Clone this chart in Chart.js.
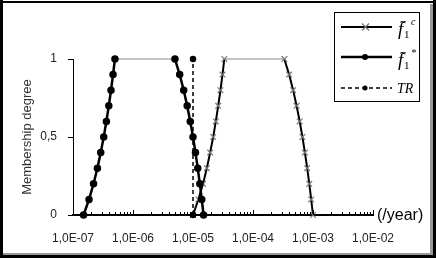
<!DOCTYPE html>
<html>
<head>
<meta charset="utf-8">
<script src="https://cdn.jsdelivr.net/npm/chart.js@4.4.0/dist/chart.umd.min.js"></script>
<style>
  body { margin: 0; background: #fff; }
  canvas { display: block; }
</style>
</head>
<body>
<canvas id="chart" width="436" height="258"></canvas>
<script>
// Values
const f1StarX = [1.5e-7, 1.85e-7, 2.2e-7, 2.55e-7, 2.9e-7, 3.25e-7, 3.6e-7, 3.95e-7, 4.3e-7, 4.65e-7, 5e-7,
                 5e-6, 6e-6, 7e-6, 8e-6, 9e-6, 1e-5, 1.1e-5, 1.2e-5, 1.3e-5, 1.4e-5, 1.5e-5];
const f1StarY = [0, 0.1, 0.2, 0.3, 0.4, 0.5, 0.6, 0.7, 0.8, 0.9, 1,
                 1, 0.9, 0.8, 0.7, 0.6, 0.5, 0.4, 0.3, 0.2, 0.1, 0];
const f1cX = [1e-5, 1.23e-5, 1.47e-5, 1.7e-5, 1.93e-5, 2.17e-5, 2.4e-5, 2.63e-5, 2.87e-5, 3.1e-5, 3.33e-5,
              3.33e-4, 4e-4, 4.67e-4, 5.33e-4, 6e-4, 6.67e-4, 7.33e-4, 8e-4, 8.67e-4, 9.33e-4, 1e-3];
const f1cY = [0, 0.1, 0.2, 0.3, 0.4, 0.5, 0.6, 0.7, 0.8, 0.9, 1,
              1, 0.9, 0.8, 0.7, 0.6, 0.5, 0.4, 0.3, 0.2, 0.1, 0];
const trX = [1e-5, 1e-5];
const trY = [0, 1];

const xTickValues = [1e-7, 1e-6, 1e-5, 1e-4, 1e-3, 1e-2];
const xTickLabels = ['1,0E-07', '1,0E-06', '1,0E-05', '1,0E-04', '1,0E-03', '1,0E-02'];
const yTickValues = [0, 0.5, 1];
const yTickLabels = ['0', '0,5', '1'];

const toPoints = (xs, ys) => xs.map((x, i) => ({ x: x, y: ys[i] }));

// thin grey segment for the flat top of each fuzzy number
const plateau = (c, normal, flat) => (c.p0.parsed.y === 1 && c.p1.parsed.y === 1) ? flat : normal;

// Draws the x tick marks pointing up, the legend box and the outer frame
const decorPlugin = {
  id: 'decor',
  afterDraw(chart) {
    const ctx = chart.ctx;
    const xs = chart.scales.x;
    const yBase = chart.scales.y.getPixelForValue(0);
    ctx.save();

    // x ticks
    ctx.strokeStyle = '#000';
    ctx.lineWidth = 1;
    xs.ticks.forEach(t => {
      const px = Math.round(xs.getPixelForValue(t.value)) + 0.5;
      const len = t.major ? 5 : 3;
      ctx.beginPath();
      ctx.moveTo(px, yBase);
      ctx.lineTo(px, yBase - len);
      ctx.stroke();
    });

    // legend
    ctx.fillStyle = '#fff';
    ctx.fillRect(334, 12, 85, 89);
    ctx.strokeStyle = '#000';
    ctx.lineWidth = 1;
    ctx.strokeRect(334.5, 12.5, 85, 89);

    const rows = [27, 57, 88];
    // row 1: f1c
    ctx.lineWidth = 2;
    ctx.beginPath(); ctx.moveTo(341, rows[0]); ctx.lineTo(392, rows[0]); ctx.stroke();
    ctx.strokeStyle = '#777'; ctx.lineWidth = 1.2;
    ctx.beginPath();
    ctx.moveTo(362, rows[0] - 3.5); ctx.lineTo(369, rows[0] + 3.5);
    ctx.moveTo(369, rows[0] - 3.5); ctx.lineTo(362, rows[0] + 3.5);
    ctx.stroke();
    // row 2: f1*
    ctx.strokeStyle = '#000'; ctx.lineWidth = 2.5;
    ctx.beginPath(); ctx.moveTo(341, rows[1]); ctx.lineTo(392, rows[1]); ctx.stroke();
    ctx.fillStyle = '#000';
    ctx.beginPath(); ctx.arc(365, rows[1], 3, 0, Math.PI * 2); ctx.fill();
    // row 3: TR
    ctx.lineWidth = 1.5; ctx.setLineDash([4, 3]);
    ctx.beginPath(); ctx.moveTo(341, rows[2]); ctx.lineTo(392, rows[2]); ctx.stroke();
    ctx.setLineDash([]);
    ctx.beginPath(); ctx.arc(365, rows[2], 2.5, 0, Math.PI * 2); ctx.fill();

    // legend texts
    ctx.fillStyle = '#000';
    ctx.textBaseline = 'alphabetic';
    ctx.textAlign = 'left';
    const drawF = (y, sup) => {
      ctx.font = 'italic 19px "Liberation Serif"';
      ctx.fillText('f', 398, y);
      ctx.font = '17px "Liberation Serif"';
      ctx.fillText('\u02DC', 400, y - 3);
      ctx.font = '11px "Liberation Serif"';
      ctx.fillText('1', 404, y + 3);
      ctx.font = 'italic 10px "Liberation Serif"';
      ctx.fillText(sup, 411, y - 10);
    };
    drawF(35, 'c');
    drawF(66, '*');
    ctx.font = 'italic 14px "Liberation Serif"';
    ctx.fillText('TR', 397, 93);

    // x axis unit
    ctx.font = '16px "Liberation Sans"';
    ctx.textBaseline = 'middle';
    ctx.fillText('(/year)', 377, 216);

    // outer frame
    ctx.fillStyle = '#999';
    ctx.fillRect(430, 4, 3, 252);
    ctx.fillRect(3, 253, 430, 2);
    ctx.fillStyle = '#000';
    ctx.fillRect(0, 1, 436, 2);
    ctx.fillRect(0, 0, 3, 258);
    ctx.fillRect(433, 0, 3, 258);
    ctx.fillRect(0, 255, 436, 3);
    ctx.restore();
  }
};

new Chart(document.getElementById('chart'), {
  type: 'scatter',
  data: {
    datasets: [
      {
        label: 'TR',
        data: toPoints(trX, trY),
        showLine: true,
        borderColor: '#000',
        borderWidth: 1.5,
        borderDash: [4, 3],
        pointStyle: 'circle',
        pointRadius: 2.5,
        backgroundColor: '#000',
        pointBorderColor: '#000',
        clip: false
      },
      {
        label: 'f1*',
        data: toPoints(f1StarX, f1StarY),
        showLine: true,
        borderColor: '#000',
        borderWidth: 2.5,
        pointStyle: 'circle',
        pointRadius: 2.5,
        backgroundColor: '#000',
        pointBorderColor: '#000',
        segment: {
          borderWidth: c => plateau(c, 2.5, 1),
          borderColor: c => plateau(c, '#000', '#888')
        },
        clip: false
      },
      {
        label: 'f1c',
        data: toPoints(f1cX, f1cY),
        showLine: true,
        borderColor: '#000',
        borderWidth: 2,
        pointStyle: 'crossRot',
        pointRadius: 4,
        pointBorderColor: '#777',
        pointBorderWidth: 1.2,
        backgroundColor: '#777',
        segment: {
          borderWidth: c => plateau(c, 2, 1),
          borderColor: c => plateau(c, '#000', '#888')
        },
        clip: false
      }
    ]
  },
  options: {
    responsive: false,
    animation: false,
    layout: { padding: { top: 59, right: 63, left: 0, bottom: 0 } },
    plugins: {
      legend: { display: false },
      tooltip: { enabled: false }
    },
    scales: {
      x: {
        type: 'logarithmic',
        min: 1e-7,
        max: 1e-2,
        grid: { display: false, drawTicks: false },
        border: { display: true, color: '#000', width: 2 },
        afterBuildTicks: scale => {
          const ticks = [];
          xTickValues.forEach((d, i) => {
            ticks.push({ value: d, major: true });
            if (i < xTickValues.length - 1) {
              for (let m = 2; m <= 9; m++) ticks.push({ value: m * d, major: false });
            }
          });
          scale.ticks = ticks;
        },
        ticks: {
          autoSkip: false,
          maxRotation: 0,
          padding: 16,
          color: '#222',
          font: { family: 'Liberation Sans', size: 12 },
          callback: value => {
            const i = xTickValues.findIndex(v => Math.abs(v - value) / v < 1e-6);
            return i >= 0 ? xTickLabels[i] : '';
          }
        },
        afterFit: scale => { scale.height = 43; }
      },
      y: {
        min: 0,
        max: 1,
        grid: { drawOnChartArea: false, drawTicks: true, tickLength: 5, color: '#000' },
        border: { display: true, color: '#000', width: 1 },
        afterBuildTicks: scale => {
          scale.ticks = yTickValues.map(v => ({ value: v }));
        },
        ticks: {
          padding: 11,
          color: '#222',
          font: { family: 'Liberation Sans', size: 12 },
          callback: value => yTickLabels[yTickValues.indexOf(value)]
        },
        title: {
          display: true,
          text: 'Membership degree',
          color: '#333',
          font: { family: 'Liberation Sans', size: 13 },
          padding: { top: 20, bottom: 0 }
        },
        afterFit: scale => { scale.width = 73; }
      }
    }
  },
  plugins: [decorPlugin]
});
</script>
</body>
</html>
